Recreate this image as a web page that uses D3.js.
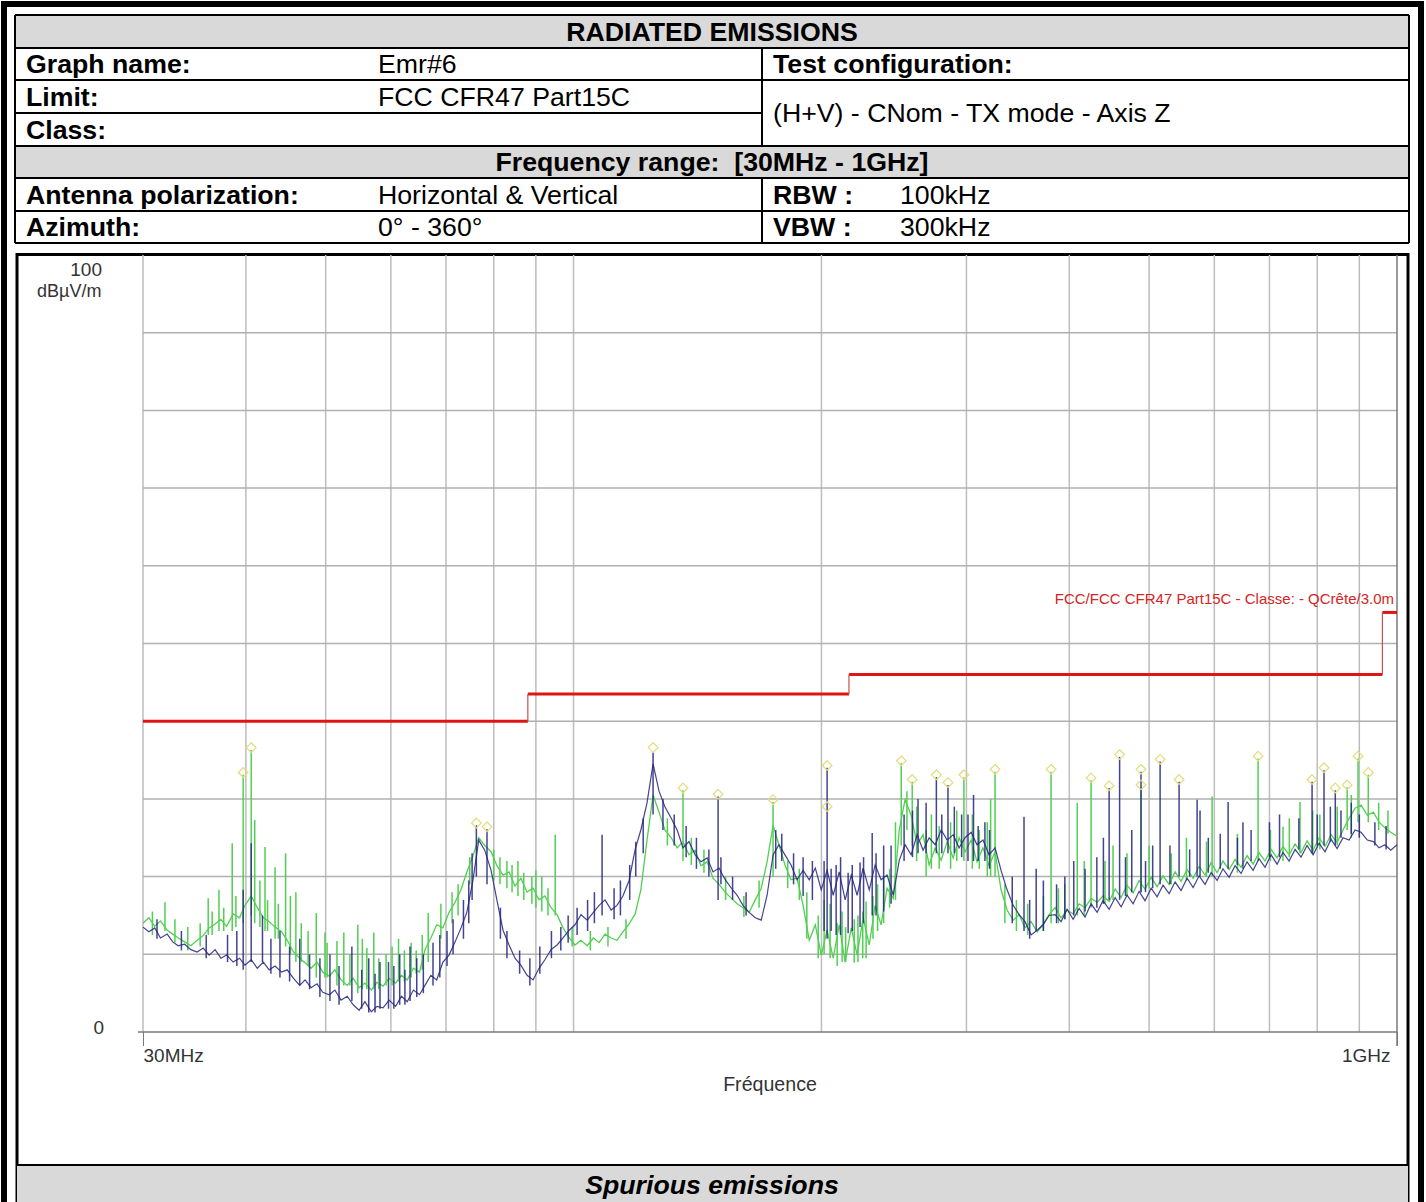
<!DOCTYPE html>
<html><head><meta charset="utf-8">
<script src="https://cdn.jsdelivr.net/npm/d3@7"></script>
<style>body{margin:0;background:#fff}svg{display:block}text{white-space:pre}</style>
</head><body><svg id="c" width="1426" height="1202"></svg>
<script>
// ---------- DATA ----------
const scanFreqMHz = [
30.0,30.5,31.0,31.5,32.1,32.6,33.1,33.7,34.3,34.9,
35.5,36.1,36.7,37.3,37.9,38.6,39.3,39.9,40.6,41.3,
42.0,42.7,43.4,44.2,44.9,45.7,46.5,47.2,48.0,48.8,
49.6,50.5,51.3,52.2,53.1,54.0,54.9,55.8,56.8,57.7,
58.7,59.7,60.8,61.8,62.8,63.9,65.0,66.0,67.1,68.2,
69.4,70.6,71.8,73.0,74.2,75.5,76.7,78.0,79.4,80.7,
82.1,83.5,84.9,86.3,87.8,89.3,90.8,92.3,93.9,95.5,
97.1,98.8,100.4,102.1,103.9,105.7,107.4,109.2,111.1,112.9,
114.8,116.8,118.8,120.7,122.8,124.9,127.0,129.1,131.4,133.6,
135.8,138.1,140.5,142.8,145.3,147.7,150.2,152.8,155.5,158.0,
160.6,163.4,166.2,169.0,171.8,174.7,177.6,180.6,183.7,186.8,
190.0,193.3,196.6,199.9,203.2,206.7,210.2,213.7,217.4,221.0,
224.7,228.6,232.4,236.3,240.3,244.5,248.6,252.7,257.0,261.4,
265.7,270.3,274.9,279.5,284.3,289.1,293.9,298.8,304.0,309.0,
314.2,319.6,325.0,330.5,336.1,341.9,347.6,353.4,359.5,365.6,
371.6,378.0,384.4,390.9,397.5,404.3,411.1,418.0,425.1,432.3,
439.5,447.1,454.7,462.3,470.1,478.1,486.2,494.3,502.8,511.3,
519.8,528.8,537.7,546.7,556.0,565.5,575.0,584.6,594.7,604.7,
614.7,625.3,635.9,646.5,657.5,668.7,679.9,691.4,703.3,715.1,
727.0,739.5,752.1,764.6,777.6,790.9,804.2,817.7,831.7,845.8,
859.8,874.6,889.4,904.3,920.5,936.2,951.0,966.8,982.7,1000
];
// green trace
const levelVertical = [
14.0,14.7,13.6,14.3,13.1,12.6,12.1,11.6,11.1,11.8,
12.4,13.4,13.9,14.5,13.6,15.2,14.7,16.3,17.5,16.0,
14.7,14.2,13.5,12.9,11.8,10.3,9.5,8.9,8.2,9.0,
7.7,7.2,8.0,6.7,6.0,6.9,5.7,6.3,5.4,6.4,
5.9,6.9,6.3,7.3,6.7,8.2,7.7,10.6,12.1,13.8,
13.4,15.4,16.7,18.3,20.6,22.7,25.0,24.0,23.2,21.4,
20.2,20.6,18.8,19.8,18.0,18.5,17.0,17.5,16.0,15.1,
13.4,12.1,11.2,11.8,11.1,12.1,11.5,12.6,12.1,11.8,
12.9,13.9,15.2,18.3,24.7,30.5,28.3,26.0,25.0,23.7,
24.5,22.8,23.4,21.4,21.9,19.8,19.0,18.0,17.2,16.5,
16.0,15.4,17.0,18.5,21.9,26.6,24.1,21.5,19.6,19.8,
16.3,11.8,13.8,9.9,13.1,9.5,13.8,9.0,13.4,9.9,
14.7,11.2,16.3,13.8,18.5,17.2,26.0,29.9,27.9,24.1,
25.4,21.5,23.7,22.1,24.5,22.4,25.0,23.2,24.7,21.9,
23.7,21.4,23.2,18.3,15.7,14.4,15.1,13.4,14.2,12.9,
13.8,15.1,16.0,14.7,15.7,15.2,16.5,16.0,17.2,16.7,
17.5,16.8,18.4,17.3,18.9,17.9,19.5,18.4,19.9,18.7,
20.1,19.0,20.6,19.4,20.9,19.8,21.3,20.2,21.8,20.5,
22.0,20.9,22.2,21.2,22.7,21.6,23.1,22.0,23.5,22.4,
23.9,22.8,24.2,23.1,24.6,23.4,25.0,23.9,25.4,24.4,
26.0,27.5,28.8,29.2,27.9,28.3,27.0,26.3,25.7,25.2
];
// navy trace
const levelHorizontal = [
13.5,12.9,13.4,12.1,12.6,11.6,11.1,11.3,10.6,10.3,
10.8,9.9,10.6,9.5,9.9,9.0,9.5,8.6,9.3,8.2,
9.0,8.0,8.5,7.7,8.0,6.9,6.0,6.7,5.7,6.2,
5.1,4.8,5.4,4.1,4.6,3.5,2.8,3.9,2.6,3.3,
3.1,4.1,3.3,4.6,3.9,5.4,4.8,6.0,7.3,6.7,
9.0,9.9,11.6,13.4,15.4,19.6,24.7,23.4,20.8,17.0,
13.1,11.2,9.5,8.6,7.3,6.7,8.2,9.3,10.6,11.2,
12.1,13.1,13.8,15.1,14.4,15.4,16.3,17.0,15.7,16.3,
17.5,19.5,23.5,26.0,29.5,34.5,31.0,29.0,27.5,26.0,
23.7,24.5,22.8,21.9,22.4,20.6,21.1,19.6,18.5,17.6,
16.3,15.4,14.7,14.4,17.6,22.8,24.1,22.8,21.5,19.6,
20.8,19.6,21.1,18.3,20.8,17.6,20.6,17.0,20.2,17.6,
21.1,18.3,21.5,19.6,20.2,17.6,22.1,24.1,22.8,25.4,
23.4,25.0,24.1,26.0,24.7,25.4,23.7,25.0,25.7,24.1,
24.7,22.8,23.7,20.8,18.3,16.3,15.1,14.2,12.5,13.1,
13.8,15.0,15.1,14.2,15.8,14.5,15.9,14.8,16.5,15.4,
16.9,15.8,17.3,16.1,17.6,16.5,18.1,16.9,18.5,17.4,
18.9,17.8,19.3,18.2,19.8,18.6,20.1,19.0,20.5,19.5,
21.0,19.9,21.4,20.4,21.9,20.8,22.3,21.2,22.8,21.6,
23.1,22.0,23.5,22.5,24.0,22.8,24.3,23.2,24.8,23.6,
25.0,24.7,26.0,25.7,24.7,24.5,23.7,24.1,23.4,24.1
];
// narrow emissions and noise bursts: [MHz, low dB, peak dB]
const spikesVertical = [
[31.9,13.0,16.7],[36.0,12.5,17.2],[37.1,13.0,18.3],[38.5,13.0,24.3],[39.7,14.0,33.1],
[40.6,15.0,36.3],[41.0,14.0,27.3],[42.2,13.0,23.8],[43.4,12.0,21.2],[44.7,11.0,23.0],
[46.0,9.0,18.0],[48.7,7.0,15.3],[49.9,7.0,12.8],[51.6,6.0,11.7],[54.7,5.0,13.8],
[56.1,5.5,10.8],[59.2,6.0,10.0],[66.6,9.0,15.3],[95.0,15.0,25.4],[135.8,22.0,31.1],
[174.7,20.0,29.6],[204.9,9.5,16.5],[211.9,9.0,15.5],[219.2,8.9,14.5],[226.6,9.5,16.8],
[250.0,24.0,34.6],[257.8,24.0,32.2],[297.9,22.0,32.8],[325.0,20.0,33.5],[380.1,14.0,33.5],
[409.0,15.0,29.5],[425.1,16.0,32.4],[488.8,18.0,31.5],[596.3,20.0,30.3],[678.1,22.0,35.2],
[727.0,22.0,26.4],[762.5,23.0,29.6],[869.9,26.0,31.5],[896.8,27.0,35.2],[922.8,27.0,33.1],
[30.8,12.5,15.5],[32.8,11.5,14.5],[34.0,10.5,13.5],[35.2,11.0,14.0],[36.4,12.5,15.5],
[37.6,13.0,16.0],[38.9,13.5,17.5],[41.6,13.5,19.5],[42.5,13.0,17.0],[43.8,12.0,16.5],
[45.3,10.0,17.5],[46.7,9.0,14.0],[47.6,8.5,13.0],[50.2,7.0,11.5],[52.6,6.0,12.8],
[53.5,6.0,10.0],[55.4,5.5,12.0],[57.2,5.5,12.8],[58.0,5.5,9.5],[60.2,6.0,11.0],
[61.3,6.5,12.0],[62.3,6.5,10.5],[63.5,7.0,11.5],[64.4,7.5,10.5],[65.5,8.0,12.5],
[69.0,12.0,16.5],[71.2,14.0,18.0],[72.4,15.0,19.0],[74.8,19.0,22.5],[80.0,19.5,23.5],
[81.4,19.0,22.5],[83.0,18.5,22.0],[84.2,18.0,21.5],[85.6,17.5,22.0],[87.0,17.0,20.5],
[89.0,16.5,20.0],[90.0,16.0,20.8],[91.5,15.5,20.0],[93.1,15.0,18.5],[99.6,11.0,13.5],
[104.8,10.5,13.0],[110.1,11.0,13.5],[115.8,12.0,14.5],[130.0,24.0,27.5],[139.0,21.5,25.0],
[144.0,20.5,23.5],[153.0,17.0,20.0],[161.0,14.8,17.5],[168.0,16.0,19.5],[182.0,18.5,22.0],
[188.0,17.0,21.0],[192.0,12.0,18.0],[198.2,9.5,15.0],[201.5,10.0,17.0],[209.0,8.5,14.0],
[214.0,9.0,13.5],[221.5,9.0,15.0],[224.5,9.5,15.5],[231.0,12.0,17.5],[234.0,13.0,19.0],
[238.0,14.0,20.0],[242.0,16.0,21.0],[246.0,17.0,27.0],[254.0,26.0,31.0],[261.0,22.0,29.0],
[268.0,20.0,26.0],[272.0,21.0,28.0],[278.0,21.0,26.5],[287.0,21.0,27.0],[292.0,22.0,28.5],
[305.0,21.0,28.0],[311.0,21.0,26.0],[318.0,20.0,27.0],[321.0,20.0,30.0],[334.0,14.0,19.0],
[345.0,13.0,17.0],[356.0,12.5,16.5],[372.0,13.0,17.5],[388.0,14.0,18.5],[395.0,14.5,19.0],
[417.0,15.0,22.0],[442.0,16.5,22.0],[452.0,17.0,24.0],[470.0,17.5,23.0],[500.0,18.5,24.0],
[532.0,19.0,23.0],[555.0,19.5,25.0],[587.0,20.0,24.5],[640.0,20.5,25.5],[702.0,22.0,26.0],
[740.0,22.5,27.5],[790.0,23.0,28.5],[806.0,23.5,28.0],[846.0,24.0,29.0],[880.0,25.0,30.5],
[950.0,26.0,29.5],[975.0,25.5,28.5]
];
const spikesHorizontal = [
[39.7,8.0,18.3],[40.6,9.0,24.3],[41.9,9.0,15.0],[46.5,6.0,12.0],[50.6,4.0,10.0],
[53.8,4.0,11.0],[58.2,3.0,9.0],[63.3,4.0,11.0],[76.2,20.0,26.6],[78.5,19.0,26.1],
[108.3,15.0,25.4],[124.9,28.0,36.0],[149.8,17.0,30.3],[201.5,13.0,22.0],[203.2,12.0,34.0],
[208.4,12.5,21.5],[215.5,12.7,20.5],[222.8,13.5,21.8],[230.5,15.0,25.6],[262.0,23.0,30.0],
[275.8,23.0,32.8],[284.9,23.0,31.8],[290.0,23.0,29.0],[301.3,22.0,28.0],[306.0,22.0,30.5],
[315.9,22.0,27.0],[352.4,13.0,27.7],[364.6,13.0,21.0],[447.1,17.0,31.4],[460.4,17.0,35.4],
[476.3,18.0,26.0],[488.8,18.0,33.5],[515.6,19.0,34.8],[543.7,20.0,32.2],[571.8,20.0,29.9],
[576.5,20.0,28.5],[623.6,21.0,29.6],[650.0,21.0,27.0],[788.6,23.0,32.2],[815.4,24.0,33.7],
[841.5,24.0,31.1],
[31.2,12.0,14.5],[33.4,10.5,13.0],[35.8,9.5,12.5],[38.0,9.0,12.5],[39.0,8.5,13.0],
[42.9,7.5,12.0],[44.0,7.0,13.0],[45.2,6.5,11.0],[47.8,5.5,10.0],[49.2,4.5,9.5],
[51.9,3.5,8.5],[55.3,3.0,8.0],[56.4,2.5,9.5],[57.4,2.5,7.5],[59.6,3.0,9.0],
[60.5,3.0,8.5],[61.5,3.5,10.0],[62.4,3.5,8.0],[64.5,4.5,9.5],[65.7,5.0,10.0],
[67.5,6.0,11.5],[68.8,7.0,12.5],[70.2,8.5,13.0],[71.4,10.0,14.5],[73.5,12.0,17.0],
[74.6,14.0,19.5],[75.3,17.0,23.0],[81.5,12.0,16.0],[83.0,9.5,13.0],[86.0,7.5,10.5],
[88.5,6.0,9.5],[91.0,7.5,11.0],[94.0,9.5,13.0],[96.5,10.5,13.5],[98.5,11.5,15.0],
[101.0,12.5,16.0],[104.0,13.0,17.0],[106.0,14.0,18.0],[112.0,14.5,18.5],[114.0,15.0,19.5],
[117.0,17.0,21.5],[119.0,20.0,24.5],[121.5,23.0,27.5],[128.4,26.0,30.0],[132.5,24.0,28.0],
[137.0,22.5,26.5],[141.0,21.0,25.0],[146.0,20.0,23.5],[151.0,19.0,22.5],[156.0,17.0,20.0],
[162.0,15.0,18.0],[176.0,21.0,26.0],[179.0,22.0,25.5],[185.0,19.0,23.0],[190.0,17.5,22.5],
[195.0,17.0,22.0],[205.5,13.0,21.0],[211.0,12.5,22.5],[218.0,13.0,21.5],[225.0,14.0,22.5],
[233.0,15.0,23.0],[238.0,15.5,24.0],[243.0,16.5,24.0],[252.0,22.0,28.0],[258.0,22.5,28.5],
[268.0,23.0,29.5],[280.0,23.0,28.0],[296.0,22.5,28.0],[310.0,22.0,26.5],[320.0,21.0,26.0],
[341.0,14.0,20.0],[358.0,12.0,17.0],[372.0,13.0,19.5],[386.0,14.0,19.0],[395.0,14.5,20.0],
[405.0,15.0,22.0],[418.0,15.5,21.0],[432.0,16.0,22.5],[440.0,16.5,25.0],[468.0,17.5,22.5],
[495.0,18.0,22.0],[505.0,18.5,24.0],[530.0,19.0,24.0],[560.0,20.0,23.5],[590.0,20.5,25.0],
[610.0,21.0,25.5],[640.0,21.5,25.0],[665.0,22.0,26.0],[700.0,22.5,27.0],[720.0,22.5,28.0],
[760.0,23.5,27.5],[800.0,24.0,28.0],[830.0,24.5,29.0],[855.0,25.0,28.5],[880.0,25.5,29.5],
[900.0,25.0,28.0],[940.0,24.0,27.0],[970.0,23.5,26.5]
];
// peak search markers [MHz, dB]
const peakMarkers = [
[39.7,33.4],[40.6,36.6],[76.2,26.9],[78.5,26.4],[124.9,36.6],[135.8,31.4],[149.8,30.6],
[174.7,29.9],[203.2,34.3],[203.2,29.0],[250.0,34.9],[257.8,32.5],[275.8,33.1],[284.9,32.1],
[297.9,33.1],[325.0,33.8],[380.1,33.8],[425.1,32.7],[447.1,31.7],[460.4,35.7],[488.8,33.8],
[488.8,31.8],[515.6,35.1],[543.7,32.5],[678.1,35.5],[788.6,32.5],[815.4,34.0],[841.5,31.4],
[869.9,31.8],[896.8,35.5],[922.8,33.4]
];
const limitStartMHz = [30, 88, 216, 960];
const limitEndMHz   = [88, 216, 960, 1000];
const limitLevel    = [40, 43.5, 46, 54];
const limitLabel = "FCC/FCC CFR47 Part15C - Classe: - QCrête/3.0m";
const gridFreqMHz = [40,50,60,70,80,90,100,200,300,400,500,600,700,800,900];
const gridLevels = [10,20,30,40,50,60,70,80,90];
const freqTickValues = [30, 1000];
const freqTickLabels = ["30MHz", "1GHz"];
const levelTickValues = [0, 100];
const levelTickLabels = ["0", "100"];
const yUnit = "dBµV/m";
const xTitle = "Fréquence";
const headerRows = [
  {label:"Graph name:", value:"Emr#6"},
  {label:"Limit:", value:"FCC CFR47 Part15C"},
  {label:"Class:", value:""}
];
const title = "RADIATED EMISSIONS";
const freqRange = "Frequency range:  [30MHz - 1GHz]";
const testConfigLabel = "Test configuration:";
const testConfigValue = "(H+V) - CNom - TX mode - Axis Z";
const antennaLabel = "Antenna polarization:", antennaValue = "Horizontal & Vertical";
const azimuthLabel = "Azimuth:", azimuthValue = "0° - 360°";
const rbwLabel = "RBW :", rbwValue = "100kHz";
const vbwLabel = "VBW :", vbwValue = "300kHz";
const footer = "Spurious emissions";

// ---------- DRAW ----------
const svg = d3.select("#c");
const FONT = "'Liberation Sans', Arial, sans-serif";
const TS = 26.7;

svg.append("rect").attr("x",4).attr("y",4).attr("width",1417).attr("height",1215)
  .attr("fill","none").attr("stroke","#000").attr("stroke-width",6);

const T = {x0:15, x1:1409, mid:762, c2:378, c4:900};
const rowY = [15, 48, 80, 113, 146, 178, 211, 243];
svg.append("rect").attr("x",T.x0).attr("y",rowY[0]).attr("width",T.x1-T.x0).attr("height",rowY[1]-rowY[0]).attr("fill","#d9d9d9");
svg.append("rect").attr("x",T.x0).attr("y",rowY[4]).attr("width",T.x1-T.x0).attr("height",rowY[5]-rowY[4]).attr("fill","#d9d9d9");
const hl = (x0,x1,y)=>svg.append("line").attr("x1",x0).attr("x2",x1).attr("y1",y).attr("y2",y).attr("stroke","#000").attr("stroke-width",2);
const vl = (x,y0,y1)=>svg.append("line").attr("x1",x).attr("x2",x).attr("y1",y0).attr("y2",y1).attr("stroke","#000").attr("stroke-width",2);
[0,1,2,4,5,6,7].forEach(i=>hl(T.x0,T.x1,rowY[i]));
hl(T.x0,T.mid,rowY[3]);
vl(T.x0,rowY[0],rowY[7]); vl(T.x1,rowY[0],rowY[7]);
vl(T.mid,rowY[1],rowY[4]); vl(T.mid,rowY[5],rowY[7]);

function txt(s,x,y,opt={}){
  return svg.append("text").attr("x",x).attr("y",y).text(s)
    .attr("font-family",FONT).attr("font-size",opt.size||TS)
    .attr("font-weight",opt.bold?"bold":"normal")
    .attr("font-style",opt.italic?"italic":"normal")
    .attr("text-anchor",opt.anchor||"start")
    .attr("fill",opt.fill||"#000");
}
const base = i => rowY[i] + (rowY[i+1]-rowY[i])/2 + 9;
txt(title,(T.x0+T.x1)/2,base(0),{bold:true,anchor:"middle"});
headerRows.forEach((r,i)=>{
  txt(r.label,26,base(i+1),{bold:true});
  if(r.value) txt(r.value,T.c2,base(i+1));
});
txt(testConfigLabel,773,base(1),{bold:true});
txt(testConfigValue,773,(rowY[2]+rowY[4])/2+9);
txt(freqRange,(T.x0+T.x1)/2,base(4),{bold:true,anchor:"middle"});
txt(antennaLabel,26,base(5),{bold:true}); txt(antennaValue,T.c2,base(5));
txt(azimuthLabel,26,base(6),{bold:true}); txt(azimuthValue,T.c2,base(6));
txt(rbwLabel,773,base(5),{bold:true}); txt(rbwValue,T.c4,base(5));
txt(vbwLabel,773,base(6),{bold:true}); txt(vbwValue,T.c4,base(6));

svg.append("rect").attr("x",17).attr("y",254.5).attr("width",1391).attr("height",960)
  .attr("fill","none").attr("stroke","#000").attr("stroke-width",3);
svg.append("rect").attr("x",17).attr("y",1165).attr("width",1391).attr("height",40).attr("fill","#d9d9d9");
hl(17,1408,1165);
txt(footer,(T.x0+T.x1)/2,1194,{bold:true,italic:true,anchor:"middle"});

const x = d3.scaleLog().domain([30,1000]).range([143,1397]);
const y = d3.scaleLinear().domain([0,100]).range([1032,255]);
const plot = svg.append("g");

plot.selectAll(".vg").data(gridFreqMHz).join("line")
  .attr("x1",d=>x(d)).attr("x2",d=>x(d)).attr("y1",y(100)).attr("y2",y(0))
  .attr("stroke","#bdbdbd").attr("stroke-width",1.5);
plot.append("line").attr("x1",x(30)).attr("x2",x(30)).attr("y1",y(100)).attr("y2",y(0))
  .attr("stroke","#bdbdbd").attr("stroke-width",1.5);
plot.selectAll(".hg").data(gridLevels).join("line")
  .attr("x1",x(30)).attr("x2",x(1000)).attr("y1",d=>y(d)).attr("y2",d=>y(d))
  .attr("stroke","#b0b0b0").attr("stroke-width",1.5);
plot.append("line").attr("x1",x(1000)).attr("x2",x(1000)).attr("y1",y(100)).attr("y2",y(0)+14)
  .attr("stroke","#7a7a7a").attr("stroke-width",1.5);

const xAxis = d3.axisBottom(x).tickValues(freqTickValues)
  .tickFormat((d,i)=>freqTickLabels[i]).tickSize(14).tickPadding(6);
const gx = svg.append("g").attr("transform",`translate(0,${y(0)})`).call(xAxis);
gx.select(".domain").attr("stroke","#7a7a7a").attr("stroke-width",1.5).attr("d",`M138,0H${x(1000)}`);
gx.selectAll(".tick line").attr("stroke","#7a7a7a");
gx.selectAll(".tick text").attr("font-family",FONT).attr("font-size",19).attr("fill","#333")
  .attr("text-anchor",(d,i)=>i===0?"start":"end")
  .attr("dx",(d,i)=>i===0?0:-7).attr("dy","0.55em");
svg.append("text").attr("x",(x(30)+x(1000))/2).attr("y",1091).text(xTitle)
  .attr("font-family",FONT).attr("font-size",19.6).attr("fill","#333").attr("text-anchor","middle");

levelTickValues.forEach((v,i)=>{
  svg.append("text").attr("x",i===0?104:102).attr("y",y(v)+(i===0?2:21)).text(levelTickLabels[i])
    .attr("font-family",FONT).attr("font-size",19).attr("fill","#333").attr("text-anchor","end");
});
svg.append("text").attr("x",37).attr("y",297).text(yUnit)
  .attr("font-family",FONT).attr("font-size",18).attr("fill","#333");

const seriesV = scanFreqMHz.map((f,i)=>[f,levelVertical[i]]);
const seriesH = scanFreqMHz.map((f,i)=>[f,levelHorizontal[i]]);
const line = d3.line().x(d=>x(d[0])).y(d=>y(d[1]));
const GREEN = "#52cf52", NAVY = "#22227e";
plot.append("path").attr("d",line(seriesV)).attr("fill","none").attr("stroke",GREEN).attr("stroke-width",1.3);
plot.selectAll(".sv").data(spikesVertical).join("line")
  .attr("x1",d=>x(d[0])).attr("x2",d=>x(d[0])).attr("y1",d=>y(d[1])).attr("y2",d=>y(d[2]))
  .attr("stroke",GREEN).attr("stroke-width",1.5);
plot.append("path").attr("d",line(seriesH)).attr("fill","none").attr("stroke",NAVY).attr("stroke-width",1.2).attr("stroke-opacity",0.85);
plot.selectAll(".sh").data(spikesHorizontal).join("line")
  .attr("x1",d=>x(d[0])).attr("x2",d=>x(d[0])).attr("y1",d=>y(d[1])).attr("y2",d=>y(d[2]))
  .attr("stroke",NAVY).attr("stroke-width",1.5).attr("stroke-opacity",0.85);

const sym = d3.symbol().type(d3.symbolDiamond2).size(60);
plot.selectAll(".pm").data(peakMarkers).join("path")
  .attr("d",sym).attr("transform",d=>`translate(${x(d[0])},${y(d[1])})`)
  .attr("fill","none").attr("stroke","#e4dc7a").attr("stroke-width",1.2);

limitLevel.forEach((lv,i)=>{
  plot.append("line").attr("x1",x(limitStartMHz[i])).attr("x2",x(limitEndMHz[i]))
    .attr("y1",y(lv)).attr("y2",y(lv)).attr("stroke","#e01414").attr("stroke-width",3);
  if(i>0) plot.append("line").attr("x1",x(limitStartMHz[i])).attr("x2",x(limitStartMHz[i]))
    .attr("y1",y(limitLevel[i-1])).attr("y2",y(lv)).attr("stroke","#c85050").attr("stroke-width",1.2);
});
svg.append("text").attr("x",x(1000)-3).attr("y",y(limitLevel[3])-8).text(limitLabel)
  .attr("font-family",FONT).attr("font-size",15).attr("fill","#d42424").attr("text-anchor","end");
</script></body></html>
